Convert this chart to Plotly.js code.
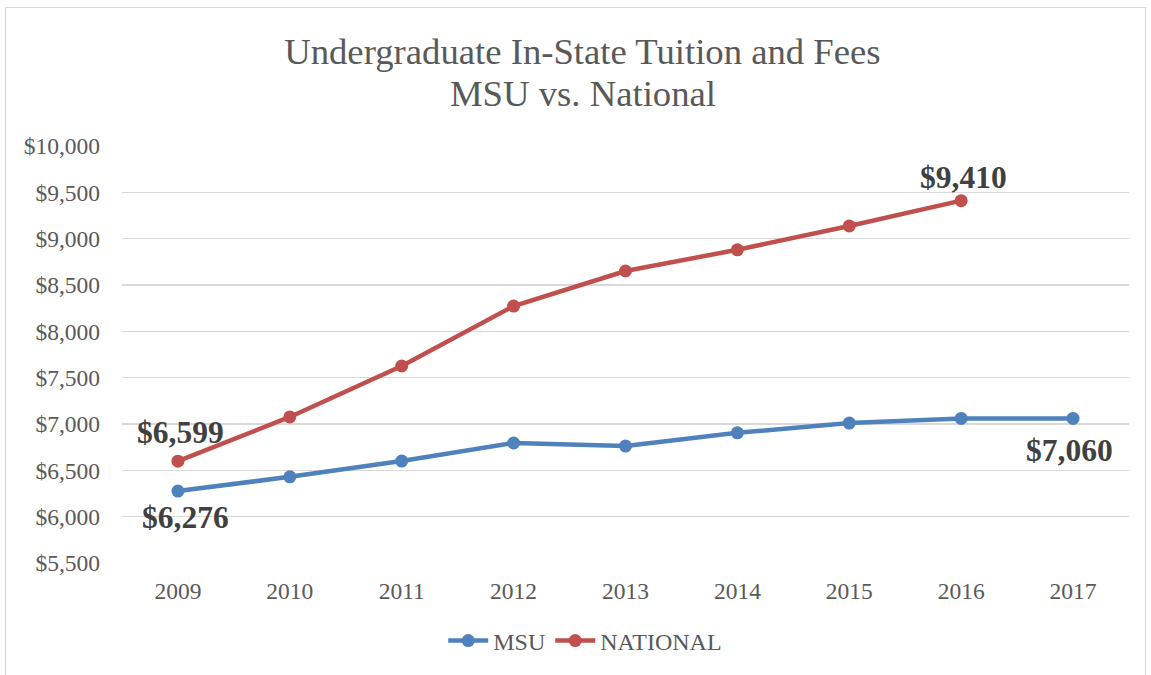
<!DOCTYPE html>
<html>
<head>
<meta charset="utf-8">
<script src="https://cdn.plot.ly/plotly-3.0.1.min.js"></script>
<style>
html,body{margin:0;padding:0;background:#fff;}
#wrap{position:relative;width:1151px;height:675px;}
#chart{position:absolute;left:0;top:0;width:1151px;height:675px;}
#border{position:absolute;left:5px;top:7px;width:1139px;height:670px;border:1px solid #d9d9d9;pointer-events:none;}
</style>
</head>
<body>
<div id="wrap"><div id="chart"></div><div id="border"></div></div>
<script>
const titleLine1 = "Undergraduate In-State Tuition and Fees";
const titleLine2 = "MSU vs. National";
const years = ["2009","2010","2011","2012","2013","2014","2015","2016","2017"];
const msu = [6276, 6430, 6600, 6795, 6762, 6905, 7010, 7060, 7060];
const nationalYears = ["2009","2010","2011","2012","2013","2014","2015","2016"];
const national = [6599, 7076, 7626, 8273, 8651, 8880, 9137, 9410];
const yTicks = [5500,6000,6500,7000,7500,8000,8500,9000,9500,10000];

const serif = "Liberation Serif, Times New Roman, serif";
const fmt = v => "$" + v.toLocaleString("en-US");

const traces = [
  {x: years, y: msu, name: "MSU", type: "scatter", mode: "lines+markers",
   line: {color: "#4F81BD", width: 4.5}, marker: {color: "#4F81BD", size: 13}, hoverinfo: "skip"},
  {x: nationalYears, y: national, name: "NATIONAL", type: "scatter", mode: "lines+markers",
   line: {color: "#C0504D", width: 4.5}, marker: {color: "#C0504D", size: 13}, hoverinfo: "skip"}
];

const labFont = {family: serif, size: 31.5, color: "#404040"};
const annotations = [
  {x: years.indexOf(nationalYears[0]), y: national[0], text: "<b>" + fmt(national[0]) + "</b>", showarrow: false, xshift: 3, yshift: 29, font: labFont},
  {x: years.indexOf(years[0]), y: msu[0], text: "<b>" + fmt(msu[0]) + "</b>", showarrow: false, xshift: 8, yshift: -26, font: labFont},
  {x: years.indexOf(nationalYears[7]), y: national[7], text: "<b>" + fmt(national[7]) + "</b>", showarrow: false, xshift: 2, yshift: 23, font: labFont},
  {x: years.indexOf(years[8]), y: msu[8], text: "<b>" + fmt(msu[8]) + "</b>", showarrow: false, xshift: -4, yshift: -32, font: labFont},
  {xref: "paper", yref: "paper", x: 0.4573, y: 1.1257, xanchor: "center", yanchor: "middle",
   text: titleLine2, showarrow: false, font: {family: serif, size: 36.7, color: "#595959"}}
];

const layout = {
  width: 1151, height: 675,
  margin: {l: 122, r: 22, t: 146, b: 112},
  paper_bgcolor: "rgba(0,0,0,0)", plot_bgcolor: "#fff",
  font: {family: serif, color: "#595959"},
  title: {text: titleLine1,
          font: {family: serif, size: 36.7, color: "#595959"},
          x: 0.506, xref: "container", xanchor: "center",
          y: 0.9244, yref: "container", yanchor: "middle"},
  xaxis: {type: "category", range: [-0.5, 8.5], showgrid: false, zeroline: false,
          showline: false, ticks: "", ticklabelstandoff: 11,
          tickfont: {family: serif, size: 23.5, color: "#595959"}, fixedrange: true},
  yaxis: {range: [5500, 10000], tickvals: yTicks, tickformat: "$,", showgrid: true,
          gridcolor: "#d9d9d9", gridwidth: 1.3, zeroline: false, showline: false, ticks: "",
          ticklabelstandoff: 21, tickfont: {family: serif, size: 23.5, color: "#595959"}, fixedrange: true},
  legend: {orientation: "h", x: 0.46, xanchor: "center", y: -0.187, yanchor: "middle",
           font: {family: serif, size: 24, color: "#595959"}, itemwidth: 40},
  annotations: annotations,
  showlegend: true
};

Plotly.newPlot("chart", traces, layout, {displayModeBar: false, staticPlot: true});
</script>
</body>
</html>
